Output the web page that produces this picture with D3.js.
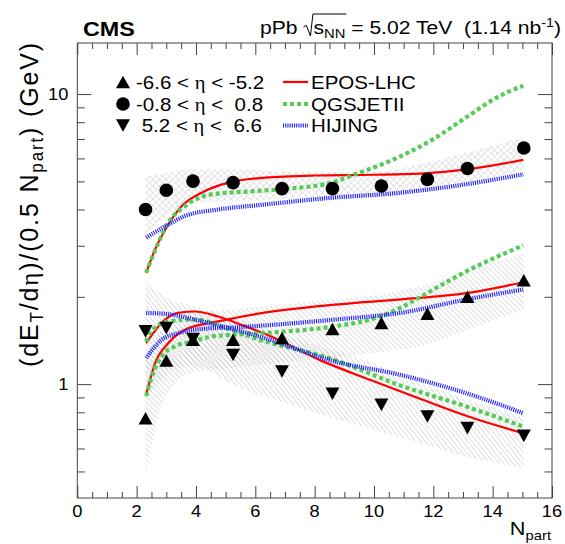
<!DOCTYPE html>
<html>
<head>
<meta charset="utf-8">
<script src="https://cdn.jsdelivr.net/npm/d3@7"></script>
<style>
    body { margin: 0; background: #fff; }
    svg text { font-family: "Liberation Sans", Arial, sans-serif; white-space: pre; fill: #000; }
</style>
</head>
<body>
<svg id="chart" width="565" height="544"></svg>
<script>
// measured points (N_part and dE_T/deta per 0.5 N_part)
var nPart   = [2.3, 3.0, 3.9, 5.25, 6.9, 8.6, 10.25, 11.8, 13.15, 15.05];
var midEta  = [4.00, 4.66, 5.01, 4.95, 4.72, 4.72, 4.82, 5.08, 5.54, 6.52];
var backEta = [0.763, 1.207, 1.422, 1.422, 1.442, 1.549, 1.625, 1.75, 2.0, 2.28];
var fwdEta  = [1.52, 1.56, 1.43, 1.26, 1.105, 0.926, 0.848, 0.773, 0.705, 0.663];

// systematic bands
var midLow   = [3.33, 3.80, 4.23, 4.27, 4.34, 4.34, 4.39, 4.69, 4.89, 5.51];
var midHigh  = [5.17, 5.36, 5.51, 5.51, 5.43, 5.39, 5.43, 5.81, 6.30, 7.10];
var backLow  = [0.478, 0.918, 1.10, 1.14, 1.19, 1.23, 1.29, 1.37, 1.54, 1.81];
var backHigh = [1.26, 1.60, 1.78, 1.81, 1.88, 1.96, 2.04, 2.20, 2.48, 2.80];
var fwdLow   = [0.882, 1.077, 1.157, 0.994, 0.869, 0.765, 0.684, 0.617, 0.561, 0.514];
var fwdHigh  = [2.24, 1.99, 1.865, 1.695, 1.48, 1.31, 1.157, 0.994, 0.882, 0.783];

// model curves
var eposMidX = [2.32, 2.62, 3.07, 3.52, 4.19, 5.09, 6.33, 8.0, 10.0, 11.55, 13.14, 15.03];
var eposMidY = [2.42, 2.91, 3.55, 4.11, 4.57, 4.95, 5.15, 5.24, 5.27, 5.32, 5.50, 5.93];
var qgsMidX  = [2.32, 2.73, 3.07, 3.63, 4.53, 6.0, 7.11, 8.57, 9.36, 10.26, 11.27, 12.0, 13.12, 14.25, 15.03];
var qgsMidY  = [2.42, 3.07, 3.60, 4.11, 4.51, 4.63, 4.72, 4.95, 5.29, 5.72, 6.37, 6.99, 8.33, 9.87, 10.68];
var hijMidX  = [2.32, 3.07, 3.63, 4.75, 6.2, 8.57, 10.88, 13.12, 15.03];
var hijMidY  = [3.20, 3.55, 3.80, 4.00, 4.15, 4.39, 4.57, 4.89, 5.29];

var eposBackX = [2.32, 2.62, 3.07, 3.63, 4.75, 6.1, 8.69, 10.9, 13.12, 15.03];
var eposBackY = [0.92, 1.18, 1.386, 1.54, 1.646, 1.75, 1.88, 1.96, 2.06, 2.245];
var qgsBackX  = [2.32, 2.51, 2.84, 3.29, 3.86, 4.53, 5.26, 7.06, 8.63, 10.2, 10.88, 12.0, 13.12, 15.03];
var qgsBackY  = [0.91, 1.06, 1.245, 1.35, 1.40, 1.46, 1.48, 1.52, 1.58, 1.71, 1.83, 2.12, 2.45, 3.01];
var hijBackX  = [2.32, 2.84, 3.4, 4.19, 5.32, 8.69, 10.88, 13.12, 15.03];
var hijBackY  = [1.23, 1.42, 1.50, 1.55, 1.57, 1.67, 1.76, 1.96, 2.12];

var eposFwdX = [2.32, 2.96, 3.4, 3.97, 4.75, 5.54, 6.4, 8.18, 9.86, 11.55, 13.23, 15.03];
var eposFwdY = [1.386, 1.67, 1.76, 1.78, 1.71, 1.60, 1.48, 1.21, 1.035, 0.89, 0.77, 0.677];
var qgsFwdX  = [2.32, 2.45, 3.07, 3.97, 4.87, 5.9, 8.69, 10.88, 13.12, 15.03];
var qgsFwdY  = [1.40, 1.50, 1.646, 1.67, 1.58, 1.45, 1.21, 0.99, 0.837, 0.714];
var hijFwdX  = [2.32, 3.12, 4.19, 5.32, 6.33, 8.63, 10.88, 13.12, 15.03];
var hijFwdY  = [1.76, 1.74, 1.646, 1.54, 1.44, 1.20, 1.077, 0.93, 0.794];

// ticks and labels
var xMajor = [0, 2, 4, 6, 8, 10, 12, 14, 16];
var yMajor = [1, 10];
var yMinor = [0.5, 0.6, 0.7, 0.8, 0.9, 2, 3, 4, 5, 6, 7, 8, 9];
var etaLabels = ['-6.6 < ', '-0.8 < ', ' 5.2 < '];
var etaLabelEnds = [' < -5.2', ' <  0.8', ' <  6.6'];
var modelNames = ['EPOS-LHC', 'QGSJETII', 'HIJING'];

(function () {
    'use strict';

    var SX = 1.14;   // text in the picture is a little wide
    var left = 77.3, right = 552, top = 43, bottom = 498;
    var svg = d3.select('#chart');

    var x = d3.scaleLinear().domain([0, 16]).range([left, right]);
    var y = d3.scaleLog().domain([0.405, 15]).range([bottom, top]);

    var xMinor = d3.range(0, 16.01, 0.5).filter(function (v) { return v % 2 !== 0; });

    // hatch patterns
    var defs = svg.append('defs');
    function hatch(id, angle, gap, color, width, cross) {
        var p = defs.append('pattern')
            .attr('id', id)
            .attr('patternUnits', 'userSpaceOnUse')
            .attr('width', gap).attr('height', gap)
            .attr('patternTransform', 'rotate(' + angle + ')');
        p.append('line').attr('x1', 0).attr('y1', 0).attr('x2', 0).attr('y2', gap)
            .attr('stroke', color).attr('stroke-width', width);
        if (cross) {
            p.append('line').attr('x1', 0).attr('y1', 0).attr('x2', gap).attr('y2', 0)
                .attr('stroke', color).attr('stroke-width', width);
        }
    }
    hatch('hBack', -45, 3.7, '#b0b0b0', 0.85, false);
    hatch('hFwd', -38, 3.7, '#b0b0b0', 0.85, false);
    hatch('hMid', 45, 4.6, '#bdbdbd', 0.75, true);

    var plot = svg.append('g');
    var clip = defs.append('clipPath').attr('id', 'frame');
    clip.append('rect').attr('x', left).attr('y', top)
        .attr('width', right - left).attr('height', bottom - top);
    plot.attr('clip-path', 'url(#frame)');

    function band(low, high, fill) {
        var area = d3.area()
            .x(function (d, i) { return x(nPart[i]); })
            .y0(function (d, i) { return y(low[i]); })
            .y1(function (d, i) { return y(high[i]); })
            .curve(d3.curveMonotoneX);
        plot.append('path').datum(nPart).attr('d', area).attr('fill', fill);
    }
    band(midLow, midHigh, 'url(#hMid)');
    band(backLow, backHigh, 'url(#hBack)');
    band(fwdLow, fwdHigh, 'url(#hFwd)');

    var styles = {
        epos: { stroke: '#ff0000', width: 2.2, dash: null },
        qgs: { stroke: '#55cc55', width: 4.2, dash: '4,3' },
        hij: { stroke: '#2222ff', width: 4.2, dash: '1.1,1.1' }
    };

    function curve(xs, ys, st) {
        var line = d3.line()
            .x(function (d, i) { return x(xs[i]); })
            .y(function (d, i) { return y(ys[i]); })
            .curve(d3.curveMonotoneX);
        plot.append('path').datum(xs).attr('d', line)
            .attr('fill', 'none')
            .attr('stroke', st.stroke)
            .attr('stroke-width', st.width)
            .attr('stroke-dasharray', st.dash);
    }
    curve(eposMidX, eposMidY, styles.epos);
    curve(eposBackX, eposBackY, styles.epos);
    curve(eposFwdX, eposFwdY, styles.epos);
    curve(qgsMidX, qgsMidY, styles.qgs);
    curve(qgsBackX, qgsBackY, styles.qgs);
    curve(qgsFwdX, qgsFwdY, styles.qgs);
    curve(hijMidX, hijMidY, styles.hij);
    curve(hijBackX, hijBackY, styles.hij);
    curve(hijFwdX, hijFwdY, styles.hij);

    // markers
    function triangle(cx, cy, up) {
        var h = 6.3, w = 7;
        var s = up ? 1 : -1;
        return 'M' + (cx - w) + ',' + (cy + s * h) + 'L' + (cx + w) + ',' + (cy + s * h) +
            'L' + cx + ',' + (cy - s * h) + 'Z';
    }
    plot.selectAll('.mid').data(midEta).enter().append('circle')
        .attr('cx', function (d, i) { return x(nPart[i]); })
        .attr('cy', function (d) { return y(d); })
        .attr('r', 6.8).attr('fill', '#000');
    plot.selectAll('.back').data(backEta).enter().append('path')
        .attr('d', function (d, i) { return triangle(x(nPart[i]), y(d), true); })
        .attr('fill', '#000');
    plot.selectAll('.fwd').data(fwdEta).enter().append('path')
        .attr('d', function (d, i) { return triangle(x(nPart[i]), y(d), false); })
        .attr('fill', '#000');

    // axes, ticks inside the frame
    var axisColor = '#444';
    function drawAxis(axis, tx, ty) {
        var g = svg.append('g').attr('transform', 'translate(' + tx + ',' + ty + ')').call(axis);
        g.select('.domain').remove();
        g.selectAll('line').attr('stroke', axisColor);
        return g;
    }
    drawAxis(d3.axisBottom(x).tickValues(xMajor).tickSize(-12).tickFormat(''), 0, bottom);
    drawAxis(d3.axisBottom(x).tickValues(xMinor).tickSize(-6).tickFormat(''), 0, bottom);
    drawAxis(d3.axisTop(x).tickValues(xMajor).tickSize(-12).tickFormat(''), 0, top);
    drawAxis(d3.axisTop(x).tickValues(xMinor).tickSize(-6).tickFormat(''), 0, top);
    drawAxis(d3.axisLeft(y).tickValues(yMajor).tickSize(-14).tickFormat(''), left, 0);
    drawAxis(d3.axisLeft(y).tickValues(yMinor).tickSize(-7.5).tickFormat(''), left, 0);
    drawAxis(d3.axisRight(y).tickValues(yMajor).tickSize(-14).tickFormat(''), right, 0);
    drawAxis(d3.axisRight(y).tickValues(yMinor).tickSize(-7.5).tickFormat(''), right, 0);

    svg.append('rect').attr('x', left).attr('y', top)
        .attr('width', right - left).attr('height', bottom - top)
        .attr('fill', 'none').attr('stroke', axisColor).attr('stroke-width', 1);

    function txt(px, py, size, anchor) {
        return svg.append('text')
            .attr('transform', 'translate(' + px + ',' + py + ') scale(' + SX + ',1)')
            .style('font-size', size + 'px')
            .attr('text-anchor', anchor || 'start');
    }

    xMajor.forEach(function (v) {
        txt(x(v), 517, 16, 'middle').text(v);
    });
    yMajor.forEach(function (v) {
        txt(left - 9, y(v) + 6, 16, 'end').text(v);
    });

    // axis titles
    var nt = txt(551, 535, 19, 'end');
    nt.append('tspan').text('N');
    nt.append('tspan').attr('dy', 5).style('font-size', '13px').text('part');

    var yt = svg.append('text')
        .attr('transform', 'translate(38,41) scale(1.03,1) rotate(-90)')
        .attr('text-anchor', 'end')
        .style('font-size', '25px');
    yt.append('tspan').text('(dE');
    yt.append('tspan').attr('dy', 5).style('font-size', '17px').text('T');
    yt.append('tspan').attr('dy', -5).text('/d');
    yt.append('tspan').style('font-family', '"Liberation Serif", serif').text('η');
    yt.append('tspan').text(')/(0.5 N');
    yt.append('tspan').attr('dy', 5).style('font-size', '17px').text('part');
    yt.append('tspan').attr('dy', -5).text(') (GeV)');
    // stretch the letter spacing so the title spans the same length as in the figure
    var ytLen = yt.node().getComputedTextLength();
    var ytChars = yt.text().length;
    yt.style('letter-spacing', Math.max(0, (326 - ytLen) / ytChars) + 'px');

    // CMS label and title
    txt(83, 36, 20.5).style('font-weight', 'bold').text('CMS');

    var tg = svg.append('g');
    var fs = 18.5;
    var cx0 = 0;
    function piece(str, size, dy) {
        var t = tg.append('text')
            .attr('transform', 'translate(' + cx0 + ',' + (34 + dy) + ') scale(' + SX + ',1)')
            .style('font-size', size + 'px').text(str);
        var w = t.node().getComputedTextLength() * SX;
        cx0 += w;
        return w;
    }
    piece('pPb', fs, 0);
    cx0 += 6;
    var sq0 = cx0;
    cx0 += 10;
    piece('s', fs, 0);
    piece('NN', 13, 4);
    var sEnd = cx0;
    piece(' = 5.02 TeV  (1.14 nb', fs, 0);
    piece('-1', 12.5, -7);
    piece(')', fs, 0);
    tg.append('path')
        .attr('d', 'M' + sq0 + ',27 L' + (sq0 + 3) + ',25.5 L' + (sq0 + 7) + ',36 L' + (sq0 + 9.5) + ',14 L' + (sEnd + 1) + ',14')
        .attr('fill', 'none').attr('stroke', '#000').attr('stroke-width', 1);
    tg.attr('transform', 'translate(' + (561 - cx0) + ',0)');

    // legend
    var rows = [82, 104, 125.5];
    svg.append('path').attr('d', triangle(123, rows[0], true)).attr('fill', '#000');
    svg.append('circle').attr('cx', 123).attr('cy', rows[1]).attr('r', 6.8).attr('fill', '#000');
    svg.append('path').attr('d', triangle(123, rows[2], false)).attr('fill', '#000');
    etaLabels.forEach(function (lab, i) {
        var t = txt(136, rows[i] + 6.5, 18);
        t.append('tspan').text(lab);
        t.append('tspan').style('font-family', '"Liberation Serif", serif').text('η');
        t.append('tspan').text(etaLabelEnds[i]);
    });
    var modelStyles = [styles.epos, styles.qgs, styles.hij];
    modelNames.forEach(function (name, i) {
        var st = modelStyles[i];
        svg.append('line').attr('x1', 283).attr('x2', 308)
            .attr('y1', rows[i]).attr('y2', rows[i])
            .attr('stroke', st.stroke).attr('stroke-width', st.width)
            .attr('stroke-dasharray', st.dash);
        txt(311, rows[i] + 6.5, 18).text(name);
    });
})();
</script>
</body>
</html>
